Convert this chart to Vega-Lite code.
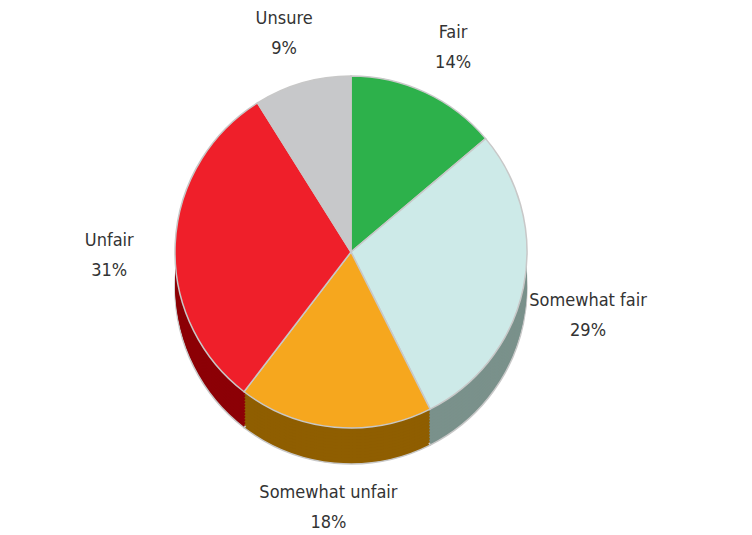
{
  "$schema": "https://vega.github.io/schema/vega-lite/v6.json",
  "width": 752,
  "height": 535,
  "autosize": {"type": "fit", "contains": "padding"},
  "padding": {"left": 0, "top": 24, "right": 50, "bottom": 42},
  "background": "white",
  "config": {"view": {"stroke": null}},
  "data": {
    "values": [
      {"category": "Fair", "pct": 14, "rank": 1},
      {"category": "Somewhat fair", "pct": 29, "rank": 2},
      {"category": "Somewhat unfair", "pct": 18, "rank": 3},
      {"category": "Unfair", "pct": 31, "rank": 4},
      {"category": "Unsure", "pct": 9, "rank": 5}
    ]
  },
  "encoding": {
    "theta": {"field": "pct", "type": "quantitative", "stack": true},
    "order": {"field": "rank", "type": "quantitative"},
    "color": {"field": "category", "type": "nominal", "legend": null,
      "scale": {"domain": ["Fair", "Somewhat fair", "Somewhat unfair", "Unfair", "Unsure"],
                "range": ["#1a6b2d", "#7a918b", "#8f5e00", "#8c0006", "#7d7e80"]}}
  },
  "layer": [
    {"mark": {"type": "arc", "outerRadius": 176, "yOffset": 36, "stroke": "#c8c8c8", "strokeWidth": 1.5}},
    {"mark": {"type": "arc", "outerRadius": 176, "yOffset": 33}},
    {"mark": {"type": "arc", "outerRadius": 176, "yOffset": 30}},
    {"mark": {"type": "arc", "outerRadius": 176, "yOffset": 27}},
    {"mark": {"type": "arc", "outerRadius": 176, "yOffset": 24}},
    {"mark": {"type": "arc", "outerRadius": 176, "yOffset": 21}},
    {"mark": {"type": "arc", "outerRadius": 176, "yOffset": 18}},
    {"mark": {"type": "arc", "outerRadius": 176, "yOffset": 15}},
    {"mark": {"type": "arc", "outerRadius": 176, "yOffset": 12}},
    {"mark": {"type": "arc", "outerRadius": 176, "yOffset": 9}},
    {"mark": {"type": "arc", "outerRadius": 176, "yOffset": 6}},
    {"mark": {"type": "arc", "outerRadius": 176, "yOffset": 3}},
    {
      "layer": [
        {
          "mark": {"type": "arc", "outerRadius": 176, "stroke": "#c8c8c8", "strokeWidth": 1.5},
          "encoding": {
            "color": {"field": "category", "type": "nominal", "legend": null,
              "scale": {"domain": ["Fair", "Somewhat fair", "Somewhat unfair", "Unfair", "Unsure"],
                        "range": ["#2db14b", "#cdeae8", "#f6a71e", "#ef1f2a", "#c7c8ca"]}}
          }
        }
      ]
    },
    {
      "transform": [{"calculate": "datum.category + '\\n' + datum.pct + '%'", "as": "label"}],
      "mark": {"type": "text", "radius": 242, "fontSize": 18, "font": "DejaVu Sans Condensed, Roboto Condensed, Liberation Sans Narrow, Liberation Sans, sans-serif", "color": "#333333", "lineBreak": "\n", "lineHeight": 30, "align": "center", "baseline": "middle"},
      "encoding": {
        "text": {"field": "label", "type": "nominal"},
        "color": {"value": "#333333"}
      }
    }
  ],
  "resolve": {"scale": {"color": "independent"}}
}
